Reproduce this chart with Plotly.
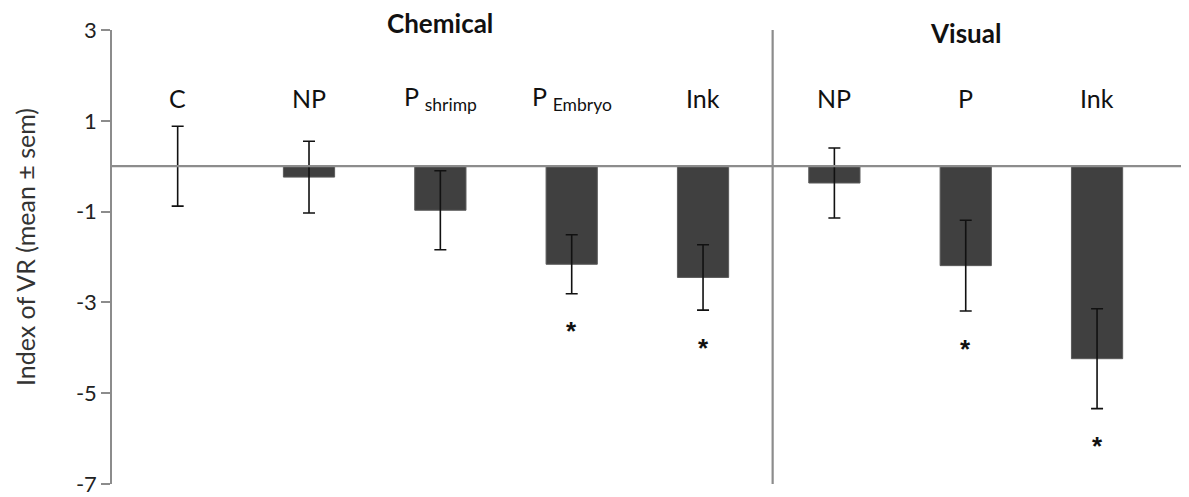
import plotly.graph_objects as go

categories = ["C", "NP", "P <sub>shrimp</sub>", "P <sub>Embryo</sub>", "Ink", "NP", "P", "Ink"]
means = [0.0, -0.24, -0.97, -2.16, -2.45, -0.37, -2.19, -4.24]
sems = [0.88, 0.79, 0.87, 0.65, 0.72, 0.77, 1.0, 1.1]
significant = [False, False, False, True, True, False, True, True]
groups = ["Chemical", "Visual"]
group_sizes = [5, 3]
y_ticks = [3, 1, -1, -3, -5, -7]

FONT = "Lato"
xs = list(range(len(categories)))

# page body has an 8px default margin; compensate in figure size/margins
W, H = 1181, 489
L, T, B = 104, 22, 9
PH = H - T - B


def paper_y(fig_px):
    return 1 - (fig_px - T) / PH


fig = go.Figure()
fig.add_trace(go.Bar(
    x=xs, y=means, width=0.39,
    marker=dict(color="#404040", line=dict(color="#5a5a5a", width=1)),
    error_y=dict(type="data", array=sems, visible=True, color="#111111", thickness=1.6, width=6),
    showlegend=False, hoverinfo="skip",
))

annotations = []
for i, c in enumerate(categories):
    annotations.append(dict(x=i, y=1.5, xref="x", yref="y", text=c, showarrow=False,
                            font=dict(family=FONT, size=25, color="#111"), yanchor="middle"))
    if significant[i]:
        annotations.append(dict(x=i, y=means[i] - sems[i] - 0.65, xref="x", yref="y", text="<b>*</b>",
                                showarrow=False, yshift=-8,
                                font=dict(family="Liberation Sans", size=26, color="#111"),
                                yanchor="middle"))

group_py = {"Chemical": 15, "Visual": 25}
start = 0
for g, n in zip(groups, group_sizes):
    center = start + (n - 1) / 2
    annotations.append(dict(x=center, y=paper_y(group_py[g]), xref="x", yref="paper",
                            text="<b>%s</b>" % g, showarrow=False,
                            font=dict(family=FONT, size=26, color="#111"), yanchor="middle"))
    start += n

annotations.append(dict(x=(17 - L) / (W - L), y=paper_y(241), xref="paper", yref="paper",
                        xanchor="center", yanchor="middle",
                        text="Index of VR (mean \u00b1 sem)", textangle=-90,
                        showarrow=False, font=dict(family=FONT, size=25, color="#333")))

shapes = [
    dict(type="line", xref="paper", yref="y", x0=0, x1=1, y0=0, y1=0,
         line=dict(color="#8c8c8c", width=2.2), layer="above"),
    dict(type="line", xref="x", yref="y", x0=group_sizes[0] - 0.47, x1=group_sizes[0] - 0.47,
         y0=3, y1=-7.05, line=dict(color="#8c8c8c", width=2.2), layer="above"),
]

fig.update_layout(
    width=W, height=H,
    margin=dict(l=L, r=0, t=T, b=B),
    plot_bgcolor="white", paper_bgcolor="white",
    annotations=annotations, shapes=shapes,
    xaxis=dict(range=[-0.5, 7.7], showticklabels=False, showgrid=False, zeroline=False,
               showline=False, ticks=""),
    yaxis=dict(range=[-7, 3], tickvals=y_ticks, ticktext=[str(v) for v in y_ticks],
               showgrid=False, zeroline=False, showline=True, linecolor="#8c8c8c", linewidth=1.5,
               ticks="outside", ticklen=9, tickcolor="#8c8c8c", tickwidth=1.5,
               ticklabeloverflow="allow",
               tickfont=dict(family=FONT, size=22, color="#222")),
    bargap=0.5,
)

fig.write_html("out.html")
